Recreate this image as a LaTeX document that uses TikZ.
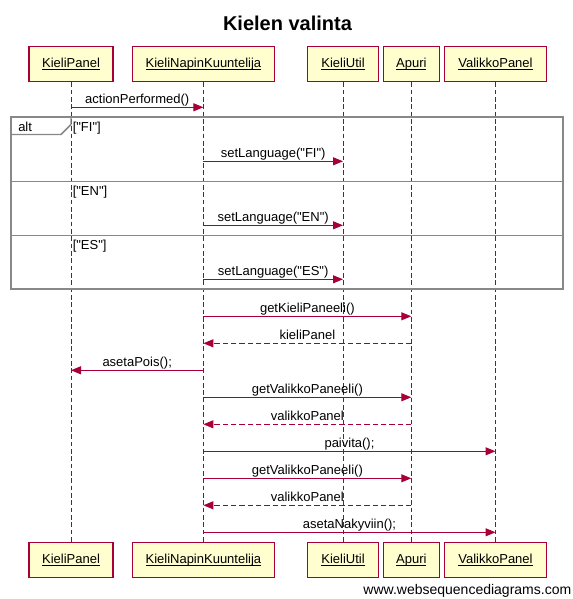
\documentclass[tikz,border=0pt]{standalone}
\usepackage{fontspec}
\setmainfont{Liberation Sans}[Ligatures=TeXOff]
\usetikzlibrary{arrows.meta}
\definecolor{wsdline}{HTML}{A80036}
\definecolor{wsdfill}{HTML}{FEFECE}
\definecolor{wsdframe}{HTML}{888888}
\newcommand\wsdpart[1]{\underline{\raisebox{0pt}[\height][0pt]{#1}}}
\begin{document}
\begin{tikzpicture}[x=0.75pt,y=-0.75pt,
  every node/.style={font=\fontsize{9.75}{11.7}\selectfont},
  part/.style={draw=wsdline, fill=wsdfill, line width=1pt, minimum height=26.5pt, inner sep=0pt},
  life/.style={draw=wsdline, line width=0.75pt, dash pattern=on 3.5pt off 2pt},
  msg/.style={draw=wsdline, line width=0.75pt, -{Triangle[length=7.5pt,width=6pt]}},
  ret/.style={msg, dash pattern=on 4pt off 2.25pt},
  lbl/.style={midway, anchor=base, yshift=2.7pt, inner sep=0pt},
  frame/.style={draw=wsdframe, line width=1.5pt},
  tabline/.style={draw=wsdframe, line width=1.1pt},
  divider/.style={draw=wsdframe, line width=0.75pt},
  guard/.style={anchor=base west, inner sep=0pt}]
\useasboundingbox (0,0) rectangle (573,599);

% title
\node[anchor=base, inner sep=0pt, font=\fontsize{15}{18}\selectfont\bfseries] (title) at (287.5,30.5) {Kielen valinta};

% participants (top)
\node[part, minimum width=63pt]   (pA) at (71,64) {\wsdpart{KieliPanel}};
\node[part, minimum width=106.5pt](pB) at (203.4,64) {\wsdpart{KieliNapinKuuntelija}};
\node[part, minimum width=53.5pt] (pC) at (343,64) {\wsdpart{KieliUtil}};
\node[part, minimum width=42pt]   (pD) at (411.3,64) {\wsdpart{Apuri}};
\node[part, minimum width=76.8pt] (pE) at (495.5,64) {\wsdpart{ValikkoPanel}};
% participants (bottom)
\node[part, minimum width=63pt]   (qA) at (71,560) {\wsdpart{KieliPanel}};
\node[part, minimum width=106.5pt](qB) at (203.4,560) {\wsdpart{KieliNapinKuuntelija}};
\node[part, minimum width=53.5pt] (qC) at (343,560) {\wsdpart{KieliUtil}};
\node[part, minimum width=42pt]   (qD) at (411.3,560) {\wsdpart{Apuri}};
\node[part, minimum width=76.8pt] (qE) at (495.5,560) {\wsdpart{ValikkoPanel}};

% lifelines
\foreach \p in {A,B,C,D,E} {\draw[life] (p\p.south) -- (q\p.north);}

% alt frame
\draw[frame] (11,117) rectangle (563,289);
\draw[tabline] (11,134.5) -- (61,134.5) -- (71,124.5) -- (71,117);
\draw[divider] (11,181) -- (563,181);
\draw[divider] (11,235.5) -- (563,235.5);
\node[guard] (altlbl) at (18,132) {alt};
\node[guard] (gFI) at (72.5,132) {["FI"]};
\node[guard] (gEN) at (72.5,195.5) {["EN"]};
\node[guard] (gES) at (72.5,249.5) {["ES"]};

% message end points on the lifelines
\coordinate (m1a) at (71,107.3);   \coordinate (m1b) at (203.4,107.3);
\coordinate (m2a) at (203.4,161.3); \coordinate (m2b) at (343,161.3);
\coordinate (m3a) at (203.4,225.3); \coordinate (m3b) at (343,225.3);
\coordinate (m4a) at (203.4,279.3); \coordinate (m4b) at (343,279.3);
\coordinate (m5a) at (203.4,316.3); \coordinate (m5b) at (411.3,316.3);
\coordinate (m6a) at (411.3,343.3); \coordinate (m6b) at (203.4,343.3);
\coordinate (m7a) at (203.4,370.3); \coordinate (m7b) at (71,370.3);
\coordinate (m8a) at (203.4,397.3); \coordinate (m8b) at (411.3,397.3);
\coordinate (m9a) at (411.3,424.3); \coordinate (m9b) at (203.4,424.3);
\coordinate (m10a) at (203.4,451.3); \coordinate (m10b) at (495.5,451.3);
\coordinate (m11a) at (203.4,478.3); \coordinate (m11b) at (411.3,478.3);
\coordinate (m12a) at (411.3,505.3); \coordinate (m12b) at (203.4,505.3);
\coordinate (m13a) at (203.4,532.3); \coordinate (m13b) at (495.5,532.3);

\draw[msg] (m1a) -- node[lbl] (l1) {actionPerformed()} (m1b);
\draw[msg] (m2a) -- node[lbl] (l2) {setLanguage("FI")} (m2b);
\draw[msg] (m3a) -- node[lbl] (l3) {setLanguage("EN")} (m3b);
\draw[msg] (m4a) -- node[lbl] (l4) {setLanguage("ES")} (m4b);
\draw[msg] (m5a) -- node[lbl] (l5) {getKieliPaneeli()} (m5b);
\draw[ret] (m6a) -- node[lbl] (l6) {kieliPanel} (m6b);
\draw[msg] (m7a) -- node[lbl] (l7) {asetaPois();} (m7b);
\draw[msg] (m8a) -- node[lbl] (l8) {getValikkoPaneeli()} (m8b);
\draw[ret] (m9a) -- node[lbl] (l9) {valikkoPanel} (m9b);
\draw[msg] (m10a) -- node[lbl] (l10) {paivita();} (m10b);
\draw[msg] (m11a) -- node[lbl] (l11) {getValikkoPaneeli()} (m11b);
\draw[ret] (m12a) -- node[lbl] (l12) {valikkoPanel} (m12b);
\draw[msg] (m13a) -- node[lbl] (l13) {asetaNakyviin();} (m13b);

% footer
\node[anchor=base east, inner sep=0pt, font=\fontsize{10.5}{12.6}\selectfont] (footer) at (571.5,594) {www.websequencediagrams.com};
\end{tikzpicture}
\end{document}
